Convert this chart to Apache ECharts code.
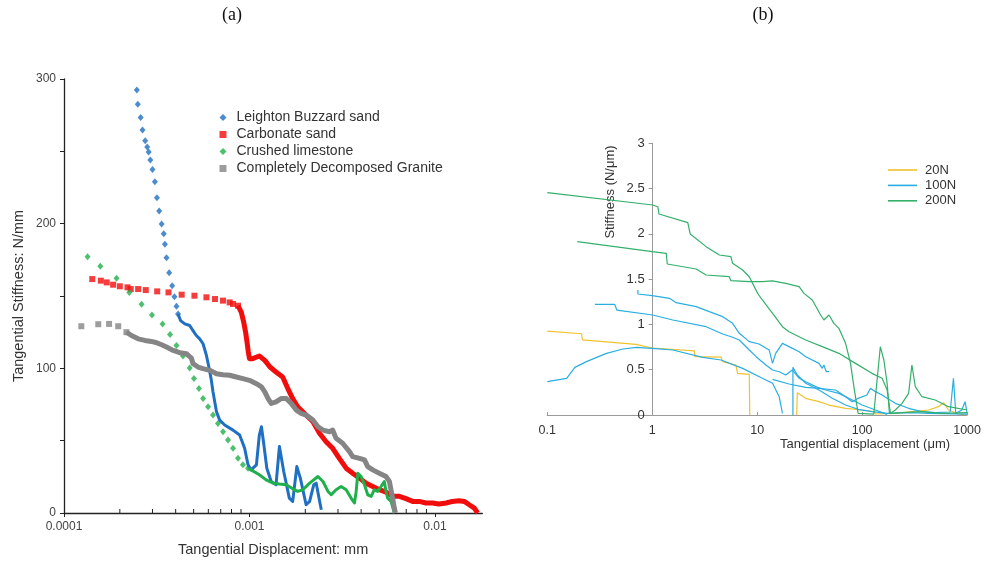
<!DOCTYPE html>
<html><head><meta charset="utf-8">
<script src="https://cdn.jsdelivr.net/npm/echarts@6/dist/echarts.min.js"></script>
<style>html,body{margin:0;padding:0;background:#fff}#c{width:984px;height:562px}</style>
</head><body><div id="c"></div>
<script>
// ---------- Panel (a) data: [displacement mm, stiffness N/mm] ----------
const lbsSparse = [[2.47e-4,292.4],[2.50e-4,282.6],[2.59e-4,273.4],[2.65e-4,264.7],[2.74e-4,257.3],[2.81e-4,253],[2.86e-4,249.5],[2.92e-4,244],[3.00e-4,237.4],[3.09e-4,228.9],[3.17e-4,217.9],[3.26e-4,208.7],[3.36e-4,199.8],[3.45e-4,193.1],[3.50e-4,185.8],[3.57e-4,176.4],[3.69e-4,166],[3.83e-4,157.1],[3.94e-4,149.5],[4.04e-4,142.9],[4.12e-4,137.6]];
const lbsDense = [[4.12e-4,137.6],[4.25e-4,133],[4.48e-4,130.7],[4.76e-4,129.6],[4.96e-4,126.1],[5.17e-4,122.7],[5.39e-4,120.4],[5.62e-4,117],[5.86e-4,108.9],[6.03e-4,101.4],[6.23e-4,91.7],[6.36e-4,83.7],[6.50e-4,76.8],[6.64e-4,70],[6.91e-4,64.2],[7.35e-4,60.8],[8.15e-4,57.3],[8.85e-4,53.9],[9.42e-4,44.7],[9.82e-4,33.3],[1.02e-3,29.8],[1.09e-3,33.3],[1.13e-3,53.9],[1.16e-3,59.6],[1.19e-3,49.3],[1.24e-3,31],[1.31e-3,21.8],[1.39e-3,19.5],[1.45e-3,45.9],[1.48e-3,44.7],[1.53e-3,28.7],[1.64e-3,10.3],[1.71e-3,8],[1.80e-3,32.1],[1.88e-3,24.1],[2.02e-3,5.7],[2.11e-3,8],[2.22e-3,19.5],[2.29e-3,20.6],[2.39e-3,8],[2.44e-3,2.3]];
const carbSparse = [[1.42e-4,161.7],[1.58e-4,160.6],[1.70e-4,159.4],[1.84e-4,157.8],[2.00e-4,156.7],[2.20e-4,156],[2.29e-4,154.8],[2.51e-4,154.8],[2.76e-4,154.1],[3.18e-4,153.2],[3.66e-4,152.5],[4.31e-4,150.9],[5.05e-4,150.2],[5.86e-4,149.1],[6.52e-4,147.9],[7.20e-4,146.8],[7.82e-4,145.6],[8.15e-4,144.5],[8.67e-4,143.3]];
const carbDense = [[8.67e-4,143.3],[9.03e-4,138.8],[9.31e-4,131.9],[9.53e-4,125],[9.70e-4,118.1],[9.86e-4,111.2],[1.00e-3,106.7],[1.04e-3,106.7],[1.13e-3,108.5],[1.21e-3,105.5],[1.29e-3,100.9],[1.39e-3,97.5],[1.51e-3,94],[1.61e-3,86],[1.71e-3,79.1],[1.82e-3,73.4],[1.98e-3,68.8],[2.20e-3,63.1],[2.39e-3,55],[2.59e-3,49.3],[2.81e-3,44.7],[3.05e-3,37.8],[3.32e-3,31],[3.60e-3,27.5],[3.92e-3,24.1],[4.25e-3,20.6],[4.62e-3,18.3],[5.01e-3,16.1],[5.45e-3,14.4],[5.91e-3,11.5],[6.43e-3,11.5],[6.98e-3,9.9],[7.58e-3,8],[8.23e-3,8],[8.94e-3,6.9],[9.71e-3,6.9],[1.05e-2,6.2],[1.15e-2,6.9],[1.24e-2,8],[1.35e-2,8.5],[1.44e-2,8],[1.53e-2,5.7],[1.63e-2,3.4],[1.70e-2,0]];
const limeSparse = [[1.34e-4,177.1],[1.57e-4,170.6],[1.92e-4,162.2],[2.25e-4,152.5],[2.62e-4,144.3],[2.98e-4,136.9],[3.40e-4,130.7],[3.73e-4,123.4],[4.04e-4,115.8],[4.38e-4,108.5],[4.76e-4,100.2],[5.02e-4,92.9],[5.34e-4,86],[5.62e-4,79.1],[5.98e-4,73.4],[6.36e-4,67.7],[6.76e-4,61.9],[7.20e-4,56.2],[7.66e-4,50.5],[8.15e-4,44.7],[8.67e-4,37.8],[9.22e-4,33.3],[9.82e-4,31]];
const limeDense = [[9.82e-4,31],[1.02e-3,29.8],[1.13e-3,26.4],[1.23e-3,22.9],[1.34e-3,20.6],[1.45e-3,20],[1.58e-3,19.5],[1.71e-3,16.7],[1.82e-3,14.9],[1.94e-3,16.1],[2.11e-3,20.6],[2.34e-3,25.2],[2.49e-3,21.8],[2.65e-3,14.9],[2.76e-3,12.6],[2.93e-3,16.1],[3.12e-3,18.3],[3.32e-3,16.1],[3.53e-3,10.3],[3.68e-3,6.9],[3.76e-3,14.9],[3.84e-3,27.5],[4.00e-3,25.2],[4.17e-3,19.5],[4.34e-3,12.6],[4.53e-3,11.5],[4.71e-3,16.1],[4.91e-3,14.9],[5.12e-3,18.3],[5.33e-3,21.8],[5.45e-3,14.9],[5.56e-3,10.3],[5.80e-3,8],[6.04e-3,0]];
const cdgSparse = [[1.24e-4,129.1],[1.53e-4,130.5],[1.75e-4,130.7],[1.96e-4,129.1],[2.17e-4,125]];
const cdgDense = [[2.17e-4,125],[2.31e-4,122.7],[2.51e-4,120.4],[2.73e-4,119.3],[2.96e-4,118.6],[3.16e-4,117.7],[3.36e-4,116.3],[3.57e-4,114.7],[3.88e-4,112.4],[4.21e-4,110.8],[4.57e-4,110.1],[4.86e-4,107.1],[4.96e-4,103.2],[5.28e-4,100.9],[5.62e-4,99.8],[6.11e-4,98.6],[6.64e-4,96.3],[7.20e-4,95.6],[7.82e-4,95.2],[8.49e-4,94],[9.22e-4,92.9],[1.00e-3,91.7],[1.09e-3,89.4],[1.16e-3,87.2],[1.21e-3,83.7],[1.26e-3,79.1],[1.31e-3,75.7],[1.39e-3,76.8],[1.48e-3,79.1],[1.58e-3,79.1],[1.68e-3,75.7],[1.79e-3,71.1],[1.90e-3,68.8],[2.02e-3,67.7],[2.20e-3,64.2],[2.34e-3,59.6],[2.49e-3,57.3],[2.70e-3,56.2],[2.81e-3,57.3],[2.93e-3,51.6],[3.18e-3,48.2],[3.46e-3,42.4],[3.60e-3,39],[3.92e-3,37.8],[4.17e-3,36.7],[4.34e-3,32.1],[4.62e-3,29.8],[5.01e-3,27.5],[5.45e-3,25.2],[5.68e-3,21.8],[5.91e-3,10.3],[6.04e-3,3.4],[6.12e-3,0]];
const xTickLabelsA = ['0.0001','0.001','0.01'];
const yTickLabelsA = ['0','100','200','300'];
const xMinorTicksA = [2e-4,3e-4,4e-4,5e-4,6e-4,7e-4,8e-4,9e-4,2e-3,3e-3,4e-3,5e-3,6e-3,7e-3,8e-3,9e-3];
const legendA = ['Leighton Buzzard sand','Carbonate sand','Crushed limestone','Completely Decomposed Granite'];

// ---------- Panel (b) data: [displacement µm, stiffness N/µm] ----------
const n20a = [[0.1,0.927],[0.212,0.897],[0.216,0.83],[0.7,0.78],[1.0,0.74],[2.52,0.707],[2.55,0.644],[4.52,0.64],[4.69,0.589],[6.27,0.55],[6.5,0.46],[8.4,0.449],[8.5,0]];
const n20b = [[23.8,0],[24.1,0.247],[29.0,0.184],[38.8,0.147],[48.3,0.110],[69.5,0.074],[100,0.055],[129,0.037],[134,0.011],[207,0.018],[298,0.037],[430,0.055],[535,0.092],[596,0.136],[665,0.055],[828,0.011],[1000,0]];
const n100a = [[0.1,0.368],[0.153,0.405],[0.183,0.526],[0.236,0.589],[0.366,0.681],[0.527,0.729],[0.705,0.747],[1.0,0.736],[1.57,0.718],[3.03,0.637],[4.52,0.607],[7.26,0.515],[11.2,0.405],[14.0,0.35],[16.2,0.202],[17.4,0.018]];
const n100b = [[0.73,1.38],[0.73,1.336],[1.0,1.318],[1.46,1.288],[1.69,1.24],[2.62,1.196],[3.5,1.141],[4.69,1.086],[5.83,1.012],[6.75,0.902],[8.40,0.81],[10.4,0.784],[13.0,0.718],[14.0,0.57],[15.0,0.681],[17.4,0.791],[20.1,0.755],[25.1,0.699],[29.0,0.644],[38.8,0.57],[41.7,0.515],[43.2,0.552],[45.5,0.478],[48.3,0.478]];
const n100c = [[0.284,1.222],[0.438,1.222],[0.46,1.159],[1.01,1.104],[1.57,1.049],[3.26,0.975],[4.69,0.894],[5.83,0.858],[6.75,0.828],[8.40,0.718],[9.77,0.644],[12.1,0.552],[14.0,0.497],[16.2,0.478],[18.7,0.442],[21.6,0.497],[25.1,0.405],[29.0,0.368],[36.1,0.313],[44.8,0.276],[60,0.239],[80.4,0.166],[100,0.11],[134,0.055],[173,0.007]];
const n100d = [[21.9,0],[21.9,0.526],[22.8,0.515],[24.1,0.442],[29.0,0.35],[38.8,0.276],[51.9,0.184],[69.5,0.11],[91.6,0.063],[124,0.037],[173,0.018],[298,0.026],[430,0.018],[1000,0.01]];
const n100e = [[14.0,0.394],[20.1,0.342],[29.0,0.305],[38.8,0.294],[55.8,0.276],[69.5,0.202],[80.4,0.147],[91.6,0.184],[111,0.221],[120,0.294],[134,0.258],[155,0.221],[173,0.184],[207,0.129],[277,0.074],[371,0.037],[497,0.026],[690,0.033],[741,0.405],[780,0.018],[890,0.055],[957,0.147],[1000,0.018]];
const n200a = [[0.1,2.455],[1.01,2.319],[1.13,2.30],[1.16,2.219],[2.18,2.124],[2.30,1.999],[3.26,1.859],[4.36,1.767],[5.62,1.748],[5.83,1.675],[7.26,1.601],[8.40,1.527],[10.1,1.343],[11.2,1.27],[14.0,1.123],[17.4,0.975],[20.1,0.92],[29.0,0.828],[41.7,0.755],[60,0.681],[86.4,0.57],[124,0.46],[155,0.405],[173,0.276],[186,0.018],[207,0.055],[240,0.129],[277,0.239],[298,0.552],[321,0.313],[371,0.202],[497,0.166],[665,0.092],[1000,0.055]];
const n200b = [[0.193,1.914],[1.0,1.803],[1.36,1.785],[1.39,1.667],[2.62,1.612],[3.26,1.546],[5.42,1.527],[5.62,1.483],[8.40,1.472],[11.2,1.472],[14.0,1.48],[18.7,1.454],[25.1,1.417],[27.9,1.343],[33.5,1.27],[40.2,1.104],[43.2,1.049],[48.3,1.104],[53.8,1.012],[60,0.957],[69.5,0.791],[77.5,0.57],[83.4,0.313],[91.6,0.018],[129,0.01],[149,0.754],[161,0.607],[173,0.35],[182,0.018],[240,0.026],[371,0.037],[574,0.018],[1000,0.026]];
const xTickLabelsB = ['0.1','1','10','100','1000'];
const yTickLabelsB = ['0','0.5','1','1.5','2','2.5','3'];
const legendB = ['20N','100N','200N'];

// ---------- chart ----------
const SANS = '"Liberation Sans", Arial, sans-serif';
const SERIF = '"Liberation Serif", "Times New Roman", serif';
const C = {blue:'#1f6fc2', red:'#f20d0d', green:'#20b04b', gray:'#858585', y20:'#f0c22e', c100:'#2aaee2', g200:'#34b06c'};
const gA = {left:64, top:79, width:418.3, height:436};
const gB = {left:547.3, top:143.3, width:421.4, height:271.7};
const offB = -gB.width * (Math.log10(1) - Math.log10(0.1)) / (Math.log10(1000) - Math.log10(0.1));

function decadeLabel(labels, minExp) {
  return function (v) {
    const e = Math.log10(v), r = Math.round(e);
    if (Math.abs(e - r) > 1e-6) return '';
    return labels[r - minExp] || '';
  };
}

const chart = echarts.init(document.getElementById('c'));

function sparse(name, data, symbol, color, size) {
  return {type:'scatter', name, data, xAxisIndex:0, yAxisIndex:0, symbol, symbolSize:size,
          itemStyle:{color}, silent:true};
}
function dense(name, data, color, width) {
  return {type:'line', name, data, xAxisIndex:0, yAxisIndex:0, symbol:'none', showSymbol:false,
          lineStyle:{color, width, join:'round'}, itemStyle:{color}, silent:true};
}
function bline(name, data, color) {
  return {type:'line', name, data, xAxisIndex:1, yAxisIndex:1, symbol:'none', showSymbol:false,
          lineStyle:{color, width:1.2}, itemStyle:{color}, silent:true};
}

chart.setOption({
  animation:false,
  backgroundColor:'#fff',
  textStyle:{fontFamily:SANS},
  grid:[
    Object.assign({containLabel:false}, gA),
    Object.assign({containLabel:false}, gB)
  ],
  xAxis:[
    {type:'log', logBase:10, gridIndex:0, min:1e-4, max:0.018,
     name:'Tangential Displacement: mm', nameLocation:'middle', nameGap:29,
     nameTextStyle:{fontSize:14.5, color:'#333', fontFamily:SANS},
     axisLine:{lineStyle:{color:'#222', width:1.3}},
     axisTick:{show:true, length:4, inside:false, lineStyle:{color:'#222'}},
     axisLabel:{color:'#444', fontSize:12, margin:8, showMaxLabel:false, fontFamily:SANS,
                formatter:decadeLabel(xTickLabelsA, -4)},
     splitLine:{show:false}, minorTick:{show:false}},
    {type:'log', logBase:10, gridIndex:1, min:0.1, max:1000,
     axisLine:{lineStyle:{color:'#999', width:1}},
     axisTick:{show:true, length:3, inside:true, lineStyle:{color:'#999'}},
     axisLabel:{color:'#333', fontSize:12.5, margin:9, fontFamily:SANS,
                formatter:decadeLabel(xTickLabelsB, -1)},
     splitLine:{show:false}}
  ],
  yAxis:[
    {type:'value', gridIndex:0, min:0, max:300, interval:50,
     name:'Tangential Stiffness: N/mm', nameLocation:'middle', nameGap:38,
     nameTextStyle:{fontSize:14.5, color:'#333', fontFamily:SANS},
     axisLine:{show:true, lineStyle:{color:'#222', width:1.3}},
     axisTick:{show:true, length:4, lineStyle:{color:'#222'}},
     axisLabel:{color:'#444', fontSize:12, margin:8, fontFamily:SANS,
                formatter:v => (v % 100 === 0 ? yTickLabelsA[v / 100] : '')},
     splitLine:{show:false}},
    {type:'value', gridIndex:1, min:0, max:3, interval:0.5, position:'left', offset:offB,
     axisLine:{show:true, onZero:false, lineStyle:{color:'#999', width:1}},
     axisTick:{show:true, length:4, lineStyle:{color:'#999'}},
     axisLabel:{color:'#333', fontSize:13, margin:8, fontFamily:SANS,
                formatter:v => yTickLabelsB[Math.round(v * 2)]},
     splitLine:{show:false}}
  ],
  legend:[
    {orient:'vertical', left:219.5, top:110.5, padding:0, itemGap:3, itemWidth:7, itemHeight:7,
     selectedMode:false,
     textStyle:{fontSize:14, color:'#333', fontFamily:SANS, padding:[0,0,0,5]},
     data:[{name:legendA[0], icon:'diamond'},{name:legendA[1], icon:'rect'},
           {name:legendA[2], icon:'diamond'},{name:legendA[3], icon:'rect'}]},
    {orient:'vertical', left:888, top:163.5, padding:0, itemGap:2.4, itemWidth:29, itemHeight:1.6,
     selectedMode:false, textStyle:{fontSize:13, color:'#333', fontFamily:SANS, padding:[0,0,0,3]},
     data:legendB.map(n => ({name:n, icon:'rect'}))}
  ],
  graphic:[
    {type:'text', x:232, y:15, style:{text:'(a)', font:'18px ' + SERIF, fill:'#111', textAlign:'center', textVerticalAlign:'middle'}},
    {type:'text', x:763, y:15, style:{text:'(b)', font:'18px ' + SERIF, fill:'#111', textAlign:'center', textVerticalAlign:'middle'}},
    {type:'text', x:610, y:192, rotation:Math.PI/2, style:{text:'Stiffness (N/μm)', font:'13px ' + SANS, fill:'#333', textAlign:'center', textVerticalAlign:'middle'}},
    {type:'text', x:865, y:444, style:{text:'Tangential displacement (μm)', font:'13px ' + SANS, fill:'#333', textAlign:'center', textVerticalAlign:'middle'}}
  ],
  series:[
    sparse(legendA[0], lbsSparse, 'diamond', C.blue, [6,7]),
    sparse(legendA[1], carbSparse, 'rect', C.red, 6),
    sparse(legendA[2], limeSparse, 'diamond', C.green, [6,7]),
    sparse(legendA[3], cdgSparse, 'rect', C.gray, 6),
    dense(legendA[0], lbsDense, C.blue, 3),
    dense(legendA[1], carbDense, C.red, 5),
    dense(legendA[2], limeDense, C.green, 3),
    dense(legendA[3], cdgDense, C.gray, 5),
    {type:'custom', xAxisIndex:0, yAxisIndex:0, silent:true, data:xMinorTicksA.map(v => [v, 0]),
     renderItem:function (params, api) {
       const p = api.coord([api.value(0), api.value(1)]);
       return {type:'line', shape:{x1:p[0], y1:p[1], x2:p[0], y2:p[1] - 4},
               style:{stroke:'#222', lineWidth:1}};
     }},
    bline(legendB[0], n20a, C.y20),
    bline(legendB[0], n20b, C.y20),
    bline(legendB[1], n100a, C.c100),
    bline(legendB[1], n100b, C.c100),
    bline(legendB[1], n100c, C.c100),
    bline(legendB[1], n100d, C.c100),
    bline(legendB[1], n100e, C.c100),
    bline(legendB[2], n200a, C.g200),
    bline(legendB[2], n200b, C.g200)
  ]
});
</script>
</body></html>
